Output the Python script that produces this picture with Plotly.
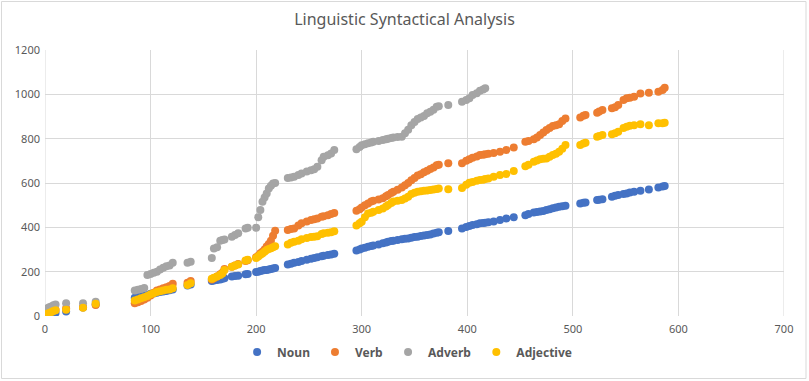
import plotly.graph_objects as go

# Shared x positions
x_vals = [0, 2, 4, 6, 8, 10, 20, 36, 48, 85, 88, 91, 94, 97, 100, 103, 106, 109, 112, 115,
          118, 121, 135, 138, 158, 160, 163, 166, 168, 170, 177, 180, 183, 190, 192, 200, 202,
          204, 206, 208, 210, 212, 214, 216, 218, 230, 233, 236, 240, 243, 248, 252, 255, 258,
          262, 264, 268, 271, 274, 295, 298, 300, 303, 306, 309, 311, 316, 320, 323, 325, 328,
          330, 334, 338, 341, 344, 347, 350, 353, 356, 359, 362, 365, 368, 371, 373, 382, 395,
          399, 402, 405, 409, 412, 415, 417, 420, 425, 431, 437, 444, 455, 458, 463, 466, 469,
          472, 475, 478, 481, 484, 487, 490, 493, 507, 510, 512, 523, 525, 528, 537, 540, 543,
          548, 551, 554, 558, 564, 572, 581, 585, 587]

noun = [0, 3, 5, 8, 10, 14, 20, 38, 52, 82, 88, 90, 92, 95, 100, 102, 105, 108, 110, 113,
        116, 120, 138, 142, 158, 160, 162, 165, 168, 170, 178, 180, 182, 188, 190, 198, 200,
        203, 205, 207, 208, 210, 212, 214, 216, 232, 236, 240, 244, 248, 254, 258, 262, 265,
        270, 272, 275, 278, 281, 296, 300, 304, 308, 312, 316, 318, 323, 328, 332, 335, 338,
        340, 343, 346, 348, 350, 353, 356, 358, 361, 363, 365, 368, 372, 376, 378, 384, 395,
        402, 406, 410, 414, 418, 420, 421, 423, 426, 433, 440, 446, 455, 460, 467, 469, 471,
        474, 478, 482, 486, 489, 493, 495, 497, 508, 511, 512, 523, 525, 527, 538, 542, 546,
        550, 553, 557, 561, 565, 571, 580, 584, 586]

verb = [10, 15, 18, 22, 25, 28, 35, 40, 50, 58, 62, 68, 74, 82, 92, 105, 115, 120, 125, 130,
        135, 145, 150, 158, 165, 170, 178, 188, 195, 212, 222, 228, 235, 248, 252, 265, 272,
        283, 290, 300, 313, 325, 340, 362, 385, 388, 392, 395, 408, 418, 426, 433, 436, 440,
        448, 450, 455, 460, 465, 475, 482, 490, 500, 508, 516, 520, 526, 531, 540, 546, 555,
        561, 570, 580, 590, 600, 612, 622, 634, 640, 648, 655, 663, 670, 680, 682, 689, 689,
        700, 707, 714, 720, 726, 728, 730, 732, 735, 741, 749, 760, 786, 790, 797, 805, 816,
        828, 839, 848, 857, 860, 865, 880, 891, 896, 903, 907, 917, 922, 929, 937, 942, 952,
        975, 982, 985, 989, 1004, 1007, 1012, 1020, 1030]

# Adverb covers the first part of x_vals (up to x = 417)
adverb = [30, 35, 40, 43, 48, 52, 57, 57, 64, 115, 118, 122, 126, 185, 190, 195, 200, 210, 218, 225,
          228, 240, 240, 245, 262, 305, 310, 340, 343, 345, 358, 365, 373, 395, 398, 398, 445,
          478, 515, 535, 553, 575, 588, 598, 600, 622, 625, 628, 636, 643, 652, 658, 662, 673,
          703, 718, 725, 733, 749, 752, 762, 770, 775, 779, 783, 786, 790, 794, 797, 800, 803,
          805, 807, 809, 825, 840, 861, 875, 889, 896, 902, 915, 921, 930, 944, 946, 952, 967,
          975, 982, 997, 1005, 1016, 1022, 1027]

adjective = [5, 10, 14, 18, 22, 26, 28, 37, 55, 70, 75, 80, 85, 90, 98, 103, 108, 112, 115, 118,
             120, 125, 140, 148, 168, 172, 178, 185, 192, 208, 222, 228, 232, 250, 254, 262, 268,
             276, 282, 290, 298, 302, 306, 310, 315, 322, 330, 335, 340, 346, 352, 356, 358, 360,
             370, 373, 376, 378, 382, 408, 418, 425, 445, 462, 466, 470, 478, 485, 494, 501, 510,
             516, 520, 523, 530, 538, 550, 556, 561, 563, 565, 566, 568, 571, 573, 575, 572, 578,
             592, 601, 605, 610, 613, 615, 618, 620, 628, 636, 641, 654, 676, 682, 696, 702, 707,
             709, 711, 718, 726, 732, 741, 755, 771, 771, 778, 782, 809, 812, 816, 820, 825, 831,
             848, 854, 858, 861, 865, 861, 869, 870, 872]

series_names = ["Noun", "Verb", "Adverb", "Adjective"]
series_colors = ["#4472C4", "#ED7D31", "#A5A5A5", "#FFC000"]
series_data = [
    (x_vals, noun),
    (x_vals, verb),
    (x_vals[:len(adverb)], adverb),
    (x_vals, adjective),
]

x_ticks = [0, 100, 200, 300, 400, 500, 600, 700]
y_ticks = [0, 200, 400, 600, 800, 1000, 1200]

fig = go.Figure()
for name, color, (xs, ys) in zip(series_names, series_colors, series_data):
    fig.add_trace(go.Scatter(
        x=xs, y=ys, mode="markers", name=name,
        marker=dict(color=color, size=8, line=dict(width=0)),
    ))

grid = "#D9D9D9"
txt = "#595959"

fig.update_layout(
    width=809, height=381,
    margin=dict(l=45, r=25, t=50, b=65),
    paper_bgcolor="white", plot_bgcolor="white",
    font=dict(family="Noto Sans", color=txt, size=11),
    title=dict(text="Linguistic Syntactical Analysis", x=0.5, xanchor="center",
               y=1 - 19 / 381, yanchor="middle",
               font=dict(family="Noto Sans", size=16, color=txt)),
    xaxis=dict(range=[0, 700], tickvals=x_ticks, showgrid=True, gridcolor=grid, gridwidth=1,
               zeroline=False, showline=False, ticks="", ticklabelstandoff=5, automargin=False,
               tickfont=dict(size=11, color=txt)),
    yaxis=dict(range=[0, 1200], tickvals=y_ticks, showgrid=True, gridcolor=grid, gridwidth=1,
               zeroline=False, showline=False, ticks="", ticklabelstandoff=4, automargin=False,
               tickfont=dict(size=11, color=txt)),
    legend=dict(orientation="h", x=0.49, xanchor="center",
                yref="container", y=1 - 352 / 381, yanchor="middle",
                font=dict(size=12, color=txt, family="Noto Sans", weight="bold"),
                itemwidth=30, itemsizing="trace", traceorder="normal", tracegroupgap=0),
    showlegend=True,
    shapes=[
        dict(type="line", xref="x", yref="y", x0=0, x1=0, y0=0, y1=1200,
             line=dict(color=grid, width=1), layer="below"),
        dict(type="line", xref="x", yref="y", x0=700, x1=700, y0=0, y1=1200,
             line=dict(color=grid, width=1), layer="below"),
        dict(type="rect", xref="paper", yref="paper",
             x0=(1.5 - 45) / 739, x1=(806 - 45) / 739,
             y0=(316 - 378.5) / 266, y1=(316 - 1.5) / 266,
             line=dict(color=grid, width=1), fillcolor="rgba(0,0,0,0)", layer="below"),
    ],
)

fig.write_html("out.html", config={"displayModeBar": False},
               post_script="document.body.style.margin='0px';document.body.style.overflow='hidden';")
